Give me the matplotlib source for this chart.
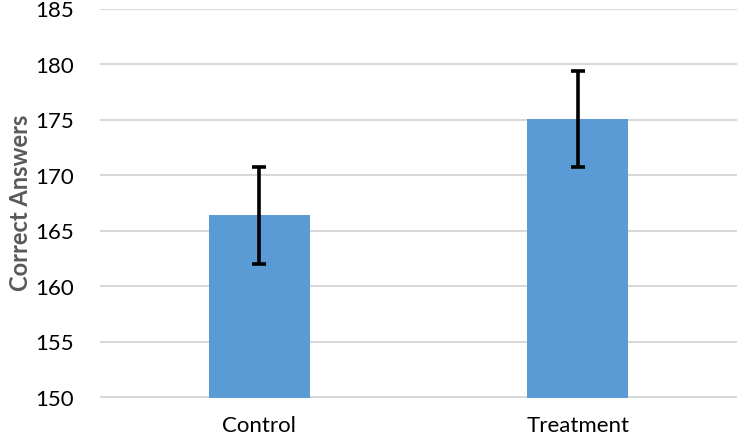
import matplotlib.pyplot as plt

# data
groups = ['Control', 'Treatment']
means = [166.4, 175.1]
errors = [4.4, 4.35]
y_ticks = [150, 155, 160, 165, 170, 175, 180, 185]

plt.rcParams['font.family'] = ['Lato', 'DejaVu Sans']

fig = plt.figure(figsize=(7.39, 4.44), dpi=100)
ax = fig.add_axes([100 / 739, 46.5 / 444, 637 / 739, 388.5 / 444])

x = list(range(len(groups)))
ax.bar(x, [m - 150 for m in means], bottom=150, width=0.317, color='#5B9BD5', zorder=2)
ax.errorbar(x, means, yerr=errors, fmt='none', ecolor='black',
            elinewidth=2.6, capsize=4.8, capthick=2.6, zorder=3)

ax.set_xlim(-0.5, 1.5)
ax.set_ylim(150, 185)
ax.set_yticks(y_ticks)
ax.set_xticks(x)
ax.set_xticklabels(groups)
ax.yaxis.grid(True, color='#d9d9d9', linewidth=1.5, zorder=0)
ax.set_axisbelow(True)
for s in ax.spines.values():
    s.set_visible(False)
ax.tick_params(axis='both', length=0, labelsize=16, colors='black')
ax.tick_params(axis='y', pad=19)
ax.tick_params(axis='x', pad=13)
ax.set_ylabel('Correct Answers', fontsize=17, fontweight='bold', color='#595959', labelpad=2)

fig.savefig('out.png', dpi=100)
